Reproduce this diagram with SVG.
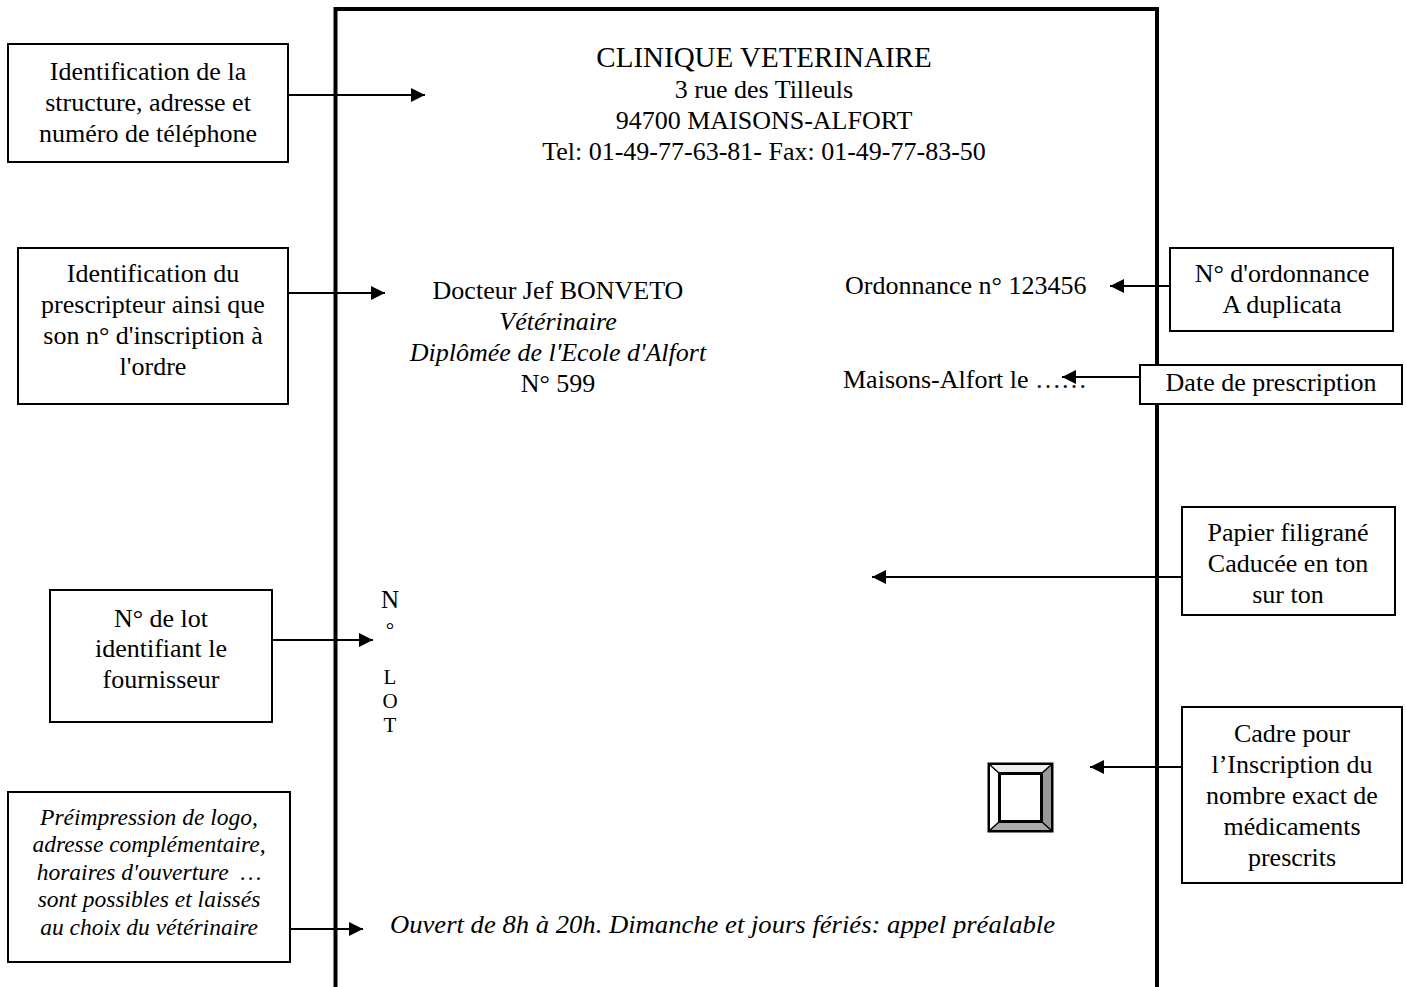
<svg xmlns="http://www.w3.org/2000/svg" width="1407" height="987" viewBox="0 0 1407 987">
<style>
text{font-family:"Liberation Serif","Times New Roman",serif;fill:#000}
.b{font-size:26px;text-anchor:middle}
.t{font-size:26px}
.i{font-style:italic}
.box{fill:#fff;stroke:#000;stroke-width:2}
.con{stroke:#000;stroke-width:2;fill:none;marker-end:url(#ah)}
</style>
<defs>
<marker id="ah" markerUnits="userSpaceOnUse" markerWidth="16" markerHeight="16" refX="14" refY="8" orient="auto">
<path d="M0,1 L14,8 L0,15 Z" fill="#000"/>
</marker>
<clipPath id="clipDate"><rect x="1140" y="365" width="262" height="33"/></clipPath>
</defs>
<rect width="1407" height="987" fill="#fff"/>

<g id="page">
<path d="M335.5,990 V9 H1157 V990" fill="none" stroke="#000" stroke-width="4"/>
<text class="b" x="764" y="67" style="font-size:29px">CLINIQUE VETERINAIRE</text>
<text class="b" x="764" y="98">3 rue des Tilleuls</text>
<text class="b" x="764" y="129">94700 MAISONS-ALFORT</text>
<text class="b" x="764" y="160">Tel: 01-49-77-63-81- Fax: 01-49-77-83-50</text>
<text class="b" x="558" y="299">Docteur Jef BONVETO</text>
<text class="b i" x="558" y="330">Vétérinaire</text>
<text class="b i" x="558" y="361">Diplômée de l'Ecole d'Alfort</text>
<text class="b" x="558" y="392">N° 599</text>
<text class="t" x="845" y="294">Ordonnance n° 123456</text>
<text class="t" x="843" y="388">Maisons-Alfort le ……</text>
<text class="b" x="390" y="608" style="font-size:25px">N</text>
<text class="b" x="390" y="637" style="font-size:21px">°</text>
<text class="b" x="390" y="684" style="font-size:21px">L</text>
<text class="b" x="390" y="708" style="font-size:21px">O</text>
<text class="b" x="390" y="732" style="font-size:21px">T</text>
<text class="t i" x="390" y="933" textLength="665" lengthAdjust="spacingAndGlyphs">Ouvert de 8h à 20h. Dimanche et jours fériés: appel préalable</text>
</g>

<g id="counter-box">
<rect x="987.5" y="762.5" width="66" height="70" fill="#000"/>
<polygon points="990,765 1051,765 1042,773 999,773" fill="#eeeeee"/>
<polygon points="990,765 999,773 999,822 990,830" fill="#ffffff"/>
<polygon points="1051,765 1051,830 1042,822 1042,773" fill="#999999"/>
<polygon points="990,830 1051,830 1042,822 999,822" fill="#aaaaaa"/>
<path d="M990,765 L999,773 M1051,765 L1042,773 M990,830 L999,822 M1051,830 L1042,822" stroke="#000" stroke-width="1.5"/>
<rect x="999.5" y="773.5" width="42" height="48" fill="#fff" stroke="#000" stroke-width="3"/>
</g>

<g id="n-structure">
<rect class="box" x="8" y="44" width="280" height="118"/>
<text class="b" x="148" y="80">Identification de la</text>
<text class="b" x="148" y="111">structure, adresse et</text>
<text class="b" x="148" y="142">numéro de téléphone</text>
</g>
<g id="n-prescripteur">
<rect class="box" x="18" y="248" width="270" height="156"/>
<text class="b" x="153" y="282">Identification du</text>
<text class="b" x="153" y="313">prescripteur ainsi que</text>
<text class="b" x="153" y="344">son n° d'inscription à</text>
<text class="b" x="153" y="375">l'ordre</text>
</g>
<g id="n-lot">
<rect class="box" x="50" y="590" width="222" height="132"/>
<text class="b" x="161" y="627">N° de lot</text>
<text class="b" x="161" y="657">identifiant le</text>
<text class="b" x="161" y="688">fournisseur</text>
</g>
<g id="n-preimpression">
<rect class="box" x="8" y="792" width="282" height="170"/>
<text class="b i" x="149" y="825" style="font-size:23.5px">Préimpression de logo,</text>
<text class="b i" x="149" y="852" style="font-size:23.5px">adresse complémentaire,</text>
<text class="b i" x="149" y="880" style="font-size:23.5px" xml:space="preserve">horaires d'ouverture  …</text>
<text class="b i" x="149" y="907" style="font-size:23.5px">sont possibles et laissés</text>
<text class="b i" x="149" y="935" style="font-size:23.5px">au choix du vétérinaire</text>
</g>
<g id="n-ordonnance">
<rect class="box" x="1170" y="248" width="223" height="83"/>
<text class="b" x="1282" y="282">N° d'ordonnance</text>
<text class="b" x="1282" y="313">A duplicata</text>
</g>
<g id="n-date">
<rect class="box" x="1140" y="365" width="262" height="39"/>
<text class="b" x="1271" y="391" clip-path="url(#clipDate)">Date de prescription</text>
</g>
<g id="n-papier">
<rect class="box" x="1182" y="507" width="213" height="108"/>
<text class="b" x="1288" y="541">Papier filigrané</text>
<text class="b" x="1288" y="572">Caducée en ton</text>
<text class="b" x="1288" y="603">sur ton</text>
</g>
<g id="n-cadre">
<rect class="box" x="1182" y="707" width="220" height="176"/>
<text class="b" x="1292" y="742">Cadre pour</text>
<text class="b" x="1292" y="773">l’Inscription du</text>
<text class="b" x="1292" y="804">nombre exact de</text>
<text class="b" x="1292" y="835">médicaments</text>
<text class="b" x="1292" y="866">prescrits</text>
</g>

<g id="connectors">
<line class="con" x1="288" y1="95" x2="425" y2="95"/>
<line class="con" x1="288" y1="293" x2="385" y2="293"/>
<line class="con" x1="272" y1="640" x2="373" y2="640"/>
<line class="con" x1="290" y1="929" x2="363" y2="929"/>
<line class="con" x1="1170" y1="286" x2="1110" y2="286"/>
<line class="con" x1="1140" y1="377" x2="1062" y2="377"/>
<line class="con" x1="1182" y1="577" x2="872" y2="577"/>
<line class="con" x1="1182" y1="767" x2="1090" y2="767"/>
</g>
</svg>
